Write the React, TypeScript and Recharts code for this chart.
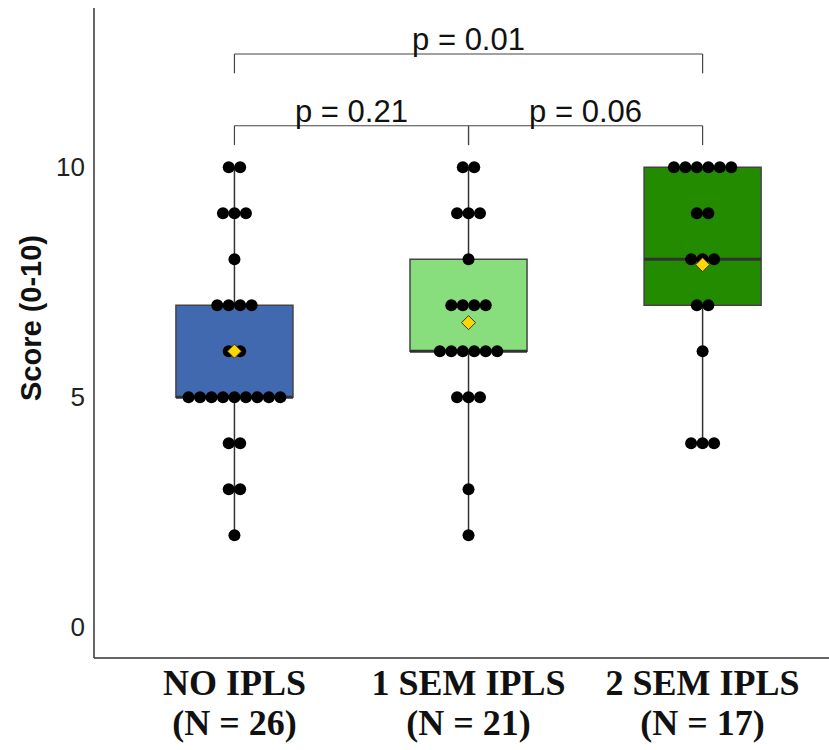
import {
  ComposedChart,
  Scatter,
  XAxis,
  YAxis,
  ReferenceArea,
  ReferenceLine,
  ReferenceDot,
} from "recharts";

// groups
const groupNames = ["NO IPLS", "1 SEM IPLS", "2 SEM IPLS"];
const groupCounts = ["(N = 26)", "(N = 21)", "(N = 17)"];
const groupColors = ["#4169B0", "#88DD7C", "#228B00"];

// individual scores
const scoresNoIpls = [10, 10, 9, 9, 9, 8, 7, 7, 7, 7, 6, 6, 5, 5, 5, 5, 5, 5, 5, 5, 5, 4, 4, 3, 3, 2];
const scoresOneSem = [10, 10, 9, 9, 9, 8, 7, 7, 7, 7, 6, 6, 6, 6, 6, 6, 5, 5, 5, 3, 2];
const scoresTwoSem = [10, 10, 10, 10, 10, 10, 9, 9, 8, 8, 8, 7, 7, 6, 4, 4, 4];

// box stats
const boxMin = [2, 2, 4];
const boxQ1 = [5, 6, 7];
const boxMedian = [5, 6, 8];
const boxQ3 = [7, 8, 10];
const boxMax = [10, 10, 10];
const groupMeans = [6.0, 6.62, 7.88];

// pairwise comparisons
const pairs = [
  { from: 1, to: 3, level: 12.46, label: "p = 0.01" },
  { from: 1, to: 2, level: 10.9, label: "p = 0.21" },
  { from: 2, to: 3, level: 10.9, label: "p = 0.06" },
];

const yTicks = [0, 5, 10];
const xTicks = [1, 2, 3];

const BOX_HALF = 0.25;
const DOT_STEP = 0.049;
const BRACKET_DROP = 0.42;

// stack equal values side by side, like a centered dot plot
function stackDots(scores: number[], center: number) {
  const counts: Record<number, number> = {};
  scores.forEach((s) => (counts[s] = (counts[s] || 0) + 1));
  const pts: { x: number; y: number }[] = [];
  Object.keys(counts).forEach((k) => {
    const v = Number(k);
    const n = counts[v];
    for (let i = 0; i < n; i++) {
      pts.push({ x: center + (i - (n - 1) / 2) * DOT_STEP, y: v });
    }
  });
  return pts;
}

const dotData = [
  ...stackDots(scoresNoIpls, 1),
  ...stackDots(scoresOneSem, 2),
  ...stackDots(scoresTwoSem, 3),
];
const meanData = groupMeans.map((m, i) => ({ x: i + 1, y: m }));

const GroupTick = (props: any) => {
  const { x, y, payload } = props;
  const i = payload.value - 1;
  return (
    <text
      x={x}
      y={y + 37}
      textAnchor="middle"
      fontFamily="'Liberation Serif', serif"
      fontWeight="bold"
      fontSize={36}
      fill="#111"
    >
      <tspan x={x}>{groupNames[i]}</tspan>
      <tspan x={x} dy={40}>
        {groupCounts[i]}
      </tspan>
    </text>
  );
};

const Dot = (props: any) => <circle cx={props.cx} cy={props.cy} r={6} fill="#000" />;

const Diamond = (props: any) => {
  const { cx, cy } = props;
  const s = 7;
  return (
    <path
      d={`M${cx},${cy - s} L${cx + s},${cy} L${cx},${cy + s} L${cx - s},${cy} Z`}
      fill="#FFD700"
      stroke="#333"
      strokeWidth={1}
    />
  );
};

export default function App() {
  return (
    <div style={{ position: "absolute", left: 0, top: 0, background: "#fff" }}>
      <ComposedChart width={829} height={750} margin={{ top: 8, right: 0, bottom: 0, left: 0 }}>
        <XAxis
          type="number"
          dataKey="x"
          domain={[0.4, 3.54]}
          ticks={xTicks}
          allowDataOverflow
          height={92}
          tickLine={false}
          tickSize={0}
          tickMargin={0}
          axisLine={{ stroke: "#333", strokeWidth: 1.5 }}
          tick={<GroupTick />}
        />
        <YAxis
          type="number"
          dataKey="y"
          domain={[-0.67, 13.46]}
          ticks={yTicks}
          allowDataOverflow
          width={94}
          tickLine={false}
          tickSize={0}
          tickMargin={9}
          axisLine={{ stroke: "#333", strokeWidth: 1.5 }}
          tick={{ fontSize: 26, fill: "#222", fontFamily: "'Liberation Sans', Arial, sans-serif" }}
          label={{
            content: () => (
              <text
                transform="translate(31,318) rotate(-90)"
                textAnchor="middle"
                dominantBaseline="central"
                fontFamily="'Liberation Sans', Arial, sans-serif"
                fontWeight="bold"
                fontSize={29}
                fill="#111"
              >
                Score (0-10)
              </text>
            ),
          }}
        />

        {groupNames.map((_, i) => (
          <ReferenceLine
            key={`wl${i}`}
            segment={[
              { x: i + 1, y: boxMin[i] },
              { x: i + 1, y: boxQ1[i] },
            ]}
            stroke="#333"
            strokeWidth={1.5}
          />
        ))}
        {groupNames.map((_, i) => (
          <ReferenceLine
            key={`wh${i}`}
            segment={[
              { x: i + 1, y: boxQ3[i] },
              { x: i + 1, y: boxMax[i] },
            ]}
            stroke="#333"
            strokeWidth={1.5}
          />
        ))}
        {groupNames.map((_, i) => (
          <ReferenceArea
            key={`box${i}`}
            x1={i + 1 - BOX_HALF}
            x2={i + 1 + BOX_HALF}
            y1={boxQ1[i]}
            y2={boxQ3[i]}
            fill={groupColors[i]}
            fillOpacity={1}
            stroke="#444"
            strokeWidth={1.5}
          />
        ))}
        {groupNames.map((_, i) => (
          <ReferenceLine
            key={`med${i}`}
            segment={[
              { x: i + 1 - BOX_HALF, y: boxMedian[i] },
              { x: i + 1 + BOX_HALF, y: boxMedian[i] },
            ]}
            stroke="#333"
            strokeWidth={3}
          />
        ))}

        {pairs.map((p, i) => (
          <ReferenceLine
            key={`br${i}`}
            segment={[
              { x: p.from, y: p.level },
              { x: p.to, y: p.level },
            ]}
            stroke="#444"
            strokeWidth={1.2}
          />
        ))}
        {pairs.map((p, i) => (
          <ReferenceLine
            key={`bl${i}`}
            segment={[
              { x: p.from, y: p.level },
              { x: p.from, y: p.level - BRACKET_DROP },
            ]}
            stroke="#444"
            strokeWidth={1.2}
          />
        ))}
        {pairs.map((p, i) => (
          <ReferenceLine
            key={`bt${i}`}
            segment={[
              { x: p.to, y: p.level },
              { x: p.to, y: p.level - BRACKET_DROP },
            ]}
            stroke="#444"
            strokeWidth={1.2}
          />
        ))}
        {pairs.map((p, i) => (
          <ReferenceDot
            key={`pl${i}`}
            x={(p.from + p.to) / 2}
            y={p.level}
            r={0}
            fill="none"
            stroke="none"
            label={{
              value: p.label,
              position: "top",
              offset: 4,
              fontSize: 31,
              fill: "#111",
              fontFamily: "'Liberation Sans', Arial, sans-serif",
            }}
          />
        ))}

        <Scatter data={dotData} shape={<Dot />} isAnimationActive={false} />
        <Scatter data={meanData} shape={<Diamond />} isAnimationActive={false} />
      </ComposedChart>
    </div>
  );
}
